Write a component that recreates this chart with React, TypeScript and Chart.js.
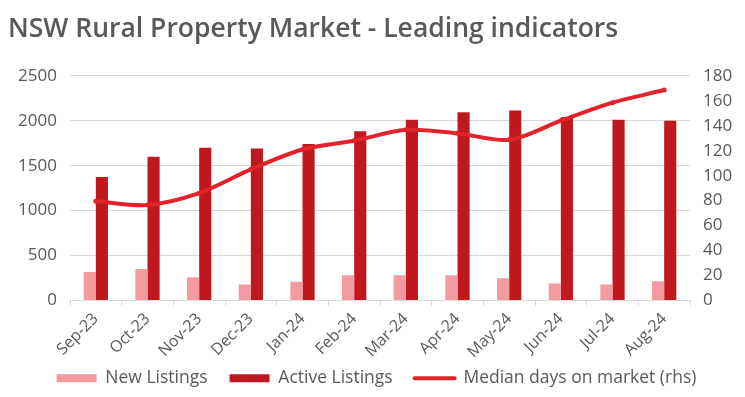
import React, { useEffect, useRef } from "react";
import { Chart, registerables } from "chart.js";

Chart.register(...registerables);

const categories = ["Sep-23", "Oct-23", "Nov-23", "Dec-23", "Jan-24", "Feb-24", "Mar-24", "Apr-24", "May-24", "Jun-24", "Jul-24", "Aug-24"];
const newListings = [317, 350, 258, 177, 210, 280, 280, 280, 247, 188, 177, 214];
const activeListings = [1375, 1598, 1700, 1690, 1742, 1883, 2010, 2095, 2115, 2042, 2010, 2000];
const medianDays = [79.5, 76.5, 86, 105, 121, 128, 136.7, 134, 128.7, 144, 158.5, 168.6];
const leftTicks = { min: 0, max: 2500, step: 500 };
const rightTicks = { min: 0, max: 180, step: 20 };

const TITLE = "NSW Rural Property Market - Leading indicators";
const GREY = "#595959";
const PINK = "#f39ba0";
const DARK = "#c0181f";
const LINE = "#e2232a";
const GRID = "#d9d9d9";
const FAMILY = "'Open Sans', sans-serif";

const extendXClip = {
  id: "extendXClip",
  afterLayout(c: any) {
    if (c.scales.x) c.scales.x.bottom = c.height;
  },
};

export default function App() {
  const ref = useRef<HTMLCanvasElement | null>(null);
  useEffect(() => {
    if (!ref.current) return;
    const chart = new Chart(ref.current, {
      type: "bar",
      plugins: [extendXClip],
      data: {
        labels: categories,
        datasets: [
          {
            label: "New Listings",
            data: newListings,
            backgroundColor: PINK,
            borderWidth: 0,
            categoryPercentage: 0.47,
            barPercentage: 1,
            yAxisID: "y",
            order: 2,
          },
          {
            label: "Active Listings",
            data: activeListings,
            backgroundColor: DARK,
            borderWidth: 0,
            categoryPercentage: 0.47,
            barPercentage: 1,
            yAxisID: "y",
            order: 2,
          },
          {
            type: "line",
            label: "Median days on market (rhs)",
            data: medianDays,
            borderColor: LINE,
            backgroundColor: LINE,
            borderWidth: 4,
            borderCapStyle: "round",
            tension: 0.3,
            pointRadius: 2.5,
            pointBorderWidth: 0,
            pointBackgroundColor: LINE,
            yAxisID: "y1",
            order: 1,
          } as any,
        ],
      },
      options: {
        responsive: false,
        animation: false,
        font: { family: FAMILY },
        layout: { padding: { left: 8, right: 0, top: 0, bottom: 0 } },
        plugins: {
          tooltip: { enabled: false },
          title: {
            display: true,
            text: TITLE,
            align: "start",
            color: GREY,
            font: { family: FAMILY, size: 26.5, weight: "600", lineHeight: 1.2 },
            padding: { top: 14, bottom: 30 },
          },
          legend: {
            position: "bottom",
            labels: {
              color: GREY,
              font: { family: FAMILY, size: 17.5 },
              usePointStyle: true,
              pointStyleWidth: 40,
              boxHeight: 8,
              padding: 22,
              generateLabels: (c: any) => {
                const items = Chart.defaults.plugins.legend.labels.generateLabels(c);
                items.sort((a: any, b: any) => a.datasetIndex - b.datasetIndex);
                return items.map((it: any) => {
                  if (it.datasetIndex === 2) {
                    return { ...it, pointStyle: "line", lineWidth: 4, strokeStyle: LINE, lineCap: "round" };
                  }
                  return { ...it, pointStyle: "rect", lineWidth: 0 };
                });
              },
            },
          },
        },
        scales: {
          x: {
            offset: true,
            afterFit: (s: any) => { s.height = 47; },
            grid: { display: true, drawOnChartArea: false, drawTicks: true, tickLength: 5, color: GRID, offset: true },
            border: { display: true, color: GRID },
            ticks: { color: GREY, font: { family: FAMILY, size: 16 }, minRotation: 45, maxRotation: 45, padding: 4, autoSkip: false },
          },
          y: {
            position: "left",
            min: leftTicks.min,
            max: leftTicks.max,
            afterFit: (s: any) => { s.width = 62; },
            grid: { color: GRID, drawTicks: false },
            border: { display: false },
            ticks: { stepSize: leftTicks.step, color: GREY, font: { family: FAMILY, size: 17 }, padding: 13, callback: (v: any) => String(v) },
          },
          y1: {
            position: "right",
            min: rightTicks.min,
            max: rightTicks.max,
            afterFit: (s: any) => { s.width = 55; },
            grid: { display: false, drawTicks: false },
            border: { display: false },
            ticks: { stepSize: rightTicks.step, color: GREY, font: { family: FAMILY, size: 17 }, padding: 13, callback: (v: any) => String(v) },
          },
        },
      },
    });
    return () => chart.destroy();
  }, []);
  return (
    <div style={{ position: "absolute", left: 0, top: 0, width: 745, height: 397, background: "#fff" }}>
      <canvas ref={ref} width={745} height={397} style={{ width: 745, height: 397, display: "block" }} />
    </div>
  );
}
